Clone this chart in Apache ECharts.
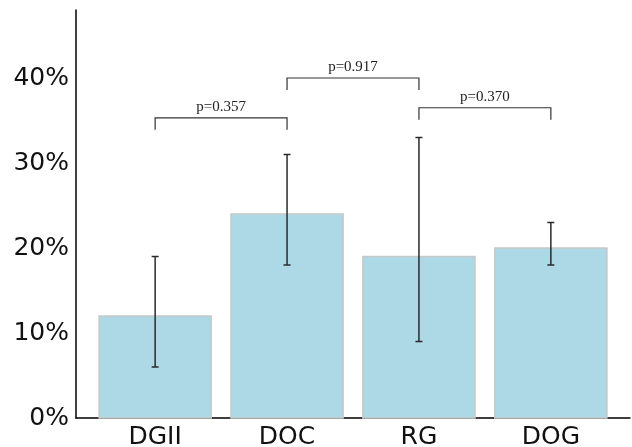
<!DOCTYPE html>
<html>
<head>
<meta charset="utf-8">
<script src="https://cdn.jsdelivr.net/npm/echarts@6/dist/echarts.min.js"></script>
<style>
  html, body { margin: 0; padding: 0; background: #fff; }
  #main { width: 632px; height: 447px; }
</style>
</head>
<body>
<div id="main"></div>
<script>
var categories = ['DGII', 'DOC', 'RG', 'DOG'];
var rates = [12, 24, 19, 20];
var errLow = [6, 18, 9, 18];
var errHigh = [19, 31, 33, 23];
// [from, to, bracket height, tick bottom, label]
var brackets = [
  [0, 1, 35.3, 33.9, 'p=0.357'],
  [1, 2, 40.0, 38.6, 'p=0.917'],
  [2, 3, 36.5, 35.1, 'p=0.370']
];

var myChart = echarts.init(document.getElementById('main'));

var barData = rates.map(function (v, i) { return [i, v]; });
var errData = rates.map(function (v, i) { return [i, errLow[i], errHigh[i]]; });

var option = {
  animation: false,
  grid: { left: 76, right: 2, top: 10, bottom: 29, outerBoundsMode: 'none' },
  xAxis: {
    type: 'value',
    min: -0.6,
    max: 3.6,
    splitLine: { show: false },
    axisLine: { show: true, onZero: false, lineStyle: { color: '#000', width: 1.5 } },
    axisTick: { show: false },
    axisLabel: {
      customValues: [0, 1, 2, 3],
      formatter: function (v) { return categories[Math.round(v)]; },
      fontFamily: 'DejaVu Sans',
      fontSize: 25,
      color: '#111',
      margin: 7
    }
  },
  yAxis: {
    type: 'value',
    min: 0,
    max: 48,
    interval: 10,
    splitLine: { show: false },
    axisLine: { show: true, onZero: false, lineStyle: { color: '#000', width: 1.5 } },
    axisTick: { show: false },
    axisLabel: {
      showMaxLabel: false,
      formatter: '{value}%',
      fontFamily: 'DejaVu Sans',
      fontSize: 25,
      color: '#111',
      margin: 7
    }
  },
  series: [
    {
      type: 'custom',
      data: barData,
      renderItem: function (params, api) {
        var p1 = api.coord([api.value(0) - 0.425, api.value(1)]);
        var p2 = api.coord([api.value(0) + 0.425, 0]);
        return {
          type: 'rect',
          shape: { x: p1[0], y: p1[1], width: p2[0] - p1[0], height: p2[1] - p1[1] },
          style: { fill: '#add8e6', stroke: '#c8c8c8', lineWidth: 1.5 }
        };
      },
      z: 1
    },
    {
      type: 'custom',
      data: errData,
      renderItem: function (params, api) {
        var lo = api.coord([api.value(0), api.value(1)]);
        var hi = api.coord([api.value(0), api.value(2)]);
        var c = 3.5;
        var st = { stroke: '#2a2a2a', lineWidth: 1.5 };
        return {
          type: 'group',
          children: [
            { type: 'line', shape: { x1: lo[0], y1: lo[1], x2: hi[0], y2: hi[1] }, style: st },
            { type: 'line', shape: { x1: lo[0] - c, y1: lo[1], x2: lo[0] + c, y2: lo[1] }, style: st },
            { type: 'line', shape: { x1: hi[0] - c, y1: hi[1], x2: hi[0] + c, y2: hi[1] }, style: st }
          ]
        };
      },
      z: 3
    },
    {
      type: 'custom',
      data: brackets,
      renderItem: function (params, api) {
        var a = api.coord([api.value(0), api.value(2)]);
        var b = api.coord([api.value(1), api.value(2)]);
        var a2 = api.coord([api.value(0), api.value(3)]);
        var b2 = api.coord([api.value(1), api.value(3)]);
        var st = { stroke: '#333', lineWidth: 1.2 };
        return {
          type: 'group',
          children: [
            { type: 'polyline', shape: { points: [[a2[0], a2[1]], [a[0], a[1]], [b[0], b[1]], [b2[0], b2[1]]] }, style: Object.assign({ fill: null }, st) },
            {
              type: 'text',
              x: (a[0] + b[0]) / 2,
              y: a[1] - 3,
              style: {
                text: brackets[params.dataIndex][4],
                fontFamily: 'Liberation Serif',
                fontSize: 15,
                fill: '#222',
                align: 'center',
                verticalAlign: 'bottom'
              }
            }
          ]
        };
      },
      z: 4
    }
  ]
};

myChart.setOption(option);
</script>
</body>
</html>
